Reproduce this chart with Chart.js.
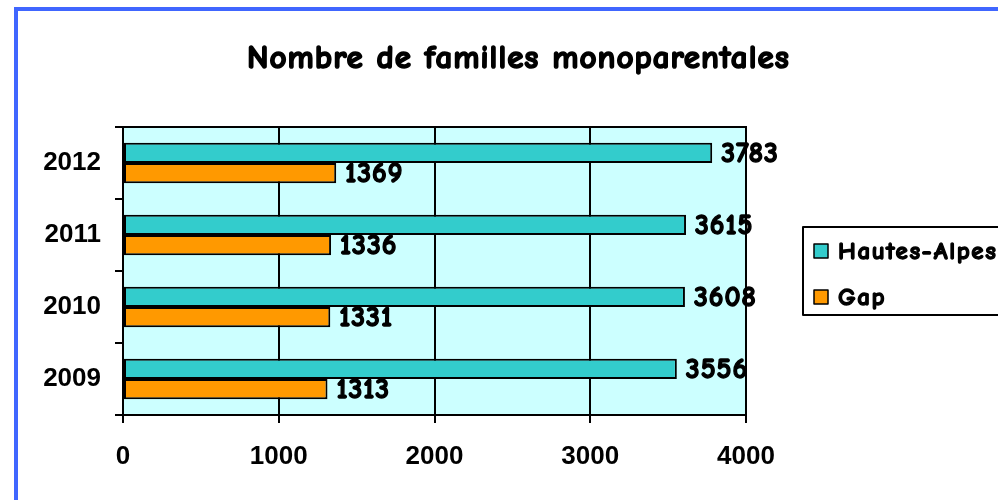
<!DOCTYPE html>
<html>
<head>
<meta charset="utf-8">
<script src="https://cdn.jsdelivr.net/npm/chart.js@4/dist/chart.umd.min.js"></script>
<style>
  html, body { margin: 0; padding: 0; background: #fff; overflow: hidden; }
  #wrap { width: 998px; height: 500px; }
</style>
</head>
<body>
<div id="wrap"><canvas id="chart" width="998" height="500"></canvas></div>
<script>
// data
const years = ["2012", "2011", "2010", "2009"];
const hautesAlpes = [3783, 3615, 3608, 3556];
const gap = [1369, 1336, 1331, 1313];
const xTicks = [0, 1000, 2000, 3000, 4000];

const titleText = "Nombre de familles monoparentales";
const comic = '"Comic Sans MS", "Comic Neue", Lato, sans-serif';
const arial = '"Liberation Sans", Arial, sans-serif';

/* texte "gras" : remplissage + contour */
function boldText(ctx, txt, x, y, w, sp) {
    ctx.letterSpacing = sp + "px";
    ctx.lineWidth = w;
    ctx.strokeStyle = ctx.fillStyle;
    ctx.lineJoin = "round";
    ctx.strokeText(txt, x, y);
    ctx.fillText(txt, x, y);
    ctx.letterSpacing = "0px";
}

/* fond de la zone de tracé + cadre bleu */
const frame = {
    id: "frame",
    beforeDraw(chart) {
        const ctx = chart.ctx, a = chart.chartArea;
        ctx.save();
        ctx.fillStyle = "#fff";
        ctx.fillRect(0, 0, chart.width, chart.height);
        ctx.strokeStyle = "#4066ff";
        ctx.lineWidth = 4;
        ctx.strokeRect(16, 9, 1100, 700);
        ctx.fillStyle = "#ccffff";
        ctx.fillRect(a.left, a.top, a.right - a.left, a.bottom - a.top);
        ctx.restore();
    },
    afterDatasetsDraw(chart) {
        const ctx = chart.ctx, a = chart.chartArea;
        ctx.save();
        ctx.strokeStyle = "#000";
        ctx.lineWidth = 2;
        ctx.strokeRect(a.left, a.top, a.right - a.left, a.bottom - a.top);
        ctx.restore();
    }
};

/* valeurs au bout des barres */
const barLabels = {
    id: "barLabels",
    afterDatasetsDraw(chart) {
        const ctx = chart.ctx;
        ctx.save();
        ctx.font = "bold 28px " + comic;
        ctx.fillStyle = "#000";
        ctx.textBaseline = "middle";
        ctx.textAlign = "left";
        chart.data.datasets.forEach((ds, i) => {
            chart.getDatasetMeta(i).data.forEach((bar, j) => {
                boldText(ctx, String(ds.data[j]), bar.x + 9, bar.y + 1, 1.4, 1);
            });
        });
        ctx.restore();
    }
};

/* titre + légende */
const extras = {
    id: "extras",
    afterDraw(chart) {
        const ctx = chart.ctx;
        ctx.save();
        ctx.fillStyle = "#000";
        ctx.font = "bold 33px " + comic;
        ctx.textAlign = "left";
        ctx.textBaseline = "middle";
        boldText(ctx, titleText, 247, 59, 1.6, 1);

        // légende
        ctx.fillStyle = "#fff";
        ctx.fillRect(803, 227, 300, 88);
        ctx.strokeStyle = "#000";
        ctx.lineWidth = 2;
        ctx.strokeRect(803, 227, 300, 88);
        ctx.font = "bold 25px " + comic;
        chart.data.datasets.forEach((ds, i) => {
            const y = 251 + i * 46;
            ctx.fillStyle = ds.backgroundColor;
            ctx.fillRect(814, y - 7, 14, 14);
            ctx.strokeStyle = "#000";
            ctx.lineWidth = 1.5;
            ctx.strokeRect(814, y - 7, 14, 14);
            ctx.fillStyle = "#000";
            boldText(ctx, ds.label, 838, y + 1, 1.3, 1.6);
        });
        ctx.restore();
    }
};

new Chart(document.getElementById("chart"), {
    type: "bar",
    data: {
        labels: years,
        datasets: [
            { label: "Hautes-Alpes", data: hautesAlpes, backgroundColor: "#33cccc" },
            { label: "Gap", data: gap, backgroundColor: "#ff9900" }
        ].map(d => Object.assign(d, {
            borderColor: "#000",
            borderWidth: 2,
            borderSkipped: false,
            barPercentage: 1,
            categoryPercentage: 0.56
        }))
    },
    options: {
        indexAxis: "y",
        responsive: false,
        animation: false,
        layout: { padding: { top: 127, right: 252, bottom: 0, left: 0 } },
        plugins: {
            legend: { display: false },
            title: { display: false },
            tooltip: { enabled: false }
        },
        scales: {
            x: {
                min: 0,
                max: 4000,
                afterBuildTicks: s => { s.ticks = xTicks.map(v => ({ value: v })); },
                afterFit: s => { s.height = 85; },
                grid: { color: "#000", lineWidth: 2, tickLength: 8 },
                border: { color: "#000", width: 2 },
                ticks: {
                    color: "#000",
                    padding: 18,
                    font: { family: arial, size: 26, weight: "bold" },
                    callback: v => String(v)
                }
            },
            y: {
                afterFit: s => { s.width = 123; },
                grid: { color: "#000", lineWidth: 2, tickLength: 8, drawOnChartArea: false, offset: true },
                border: { color: "#000", width: 2 },
                ticks: { color: "#000", padding: 14, font: { family: arial, size: 26, weight: "bold" } }
            }
        }
    },
    plugins: [frame, barLabels, extras]
});
</script>
</body>
</html>
